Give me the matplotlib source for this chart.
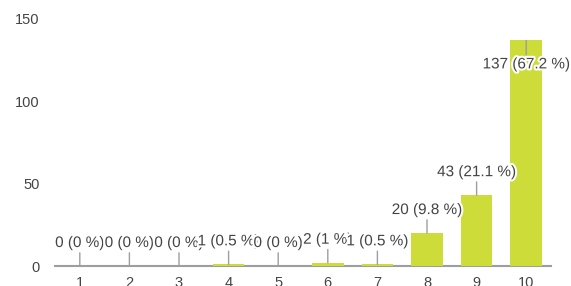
import matplotlib.pyplot as plt
import matplotlib.patheffects as pe

plt.rcParams['font.family'] = ['Liberation Sans', 'DejaVu Sans']

scores = [1, 2, 3, 4, 5, 6, 7, 8, 9, 10]
counts = [0, 0, 0, 1, 0, 2, 1, 20, 43, 137]
percents = ['0', '0', '0', '0.5', '0', '1', '0.5', '9.8', '21.1', '67.2']
yticks = [0, 50, 100, 150]

bar_colour = '#cddc39'
text_colour = '#444444'
line_colour = '#9e9e9e'

fig = plt.figure(figsize=(5.71, 2.86), dpi=100)
ax = fig.add_axes([55 / 571, 20 / 286, 496 / 571, 247 / 286])

ax.bar(scores, counts, width=0.64, color=bar_colour, zorder=2)

ax.set_xlim(0.5, 10.5)
ax.set_ylim(0, 150)
ax.set_xticks(scores)
ax.set_yticks(yticks)
for s in ['top', 'right', 'left']:
    ax.spines[s].set_visible(False)
ax.spines['bottom'].set_color(line_colour)
ax.spines['bottom'].set_linewidth(1.5)
ax.spines['bottom'].set_zorder(1)
ax.tick_params(axis='both', length=0, colors=text_colour, labelsize=10.5)
ax.tick_params(axis='y', pad=11)
ax.tick_params(axis='x', pad=7)

halo = [pe.withStroke(linewidth=3, foreground='white')]
for x, c, p in zip(scores, counts, percents):
    label = f'{c} ({p} %)'
    if c > 120:
        # no room above the tallest bar: put the label inside it
        off, va, rel = -17, 'top', (0.5, 1)
    else:
        off, va, rel = 16, 'bottom', (0.5, 0)
    t = ax.annotate(label, xy=(x, c), xytext=(0, off), textcoords='offset pixels',
                    ha='center', va=va, fontsize=11, color=text_colour, zorder=5,
                    arrowprops=dict(arrowstyle='-', color=line_colour, lw=1,
                                    shrinkA=0, shrinkB=0, relpos=rel))
    t.set_path_effects(halo)

fig.savefig('out.png', dpi=100)
